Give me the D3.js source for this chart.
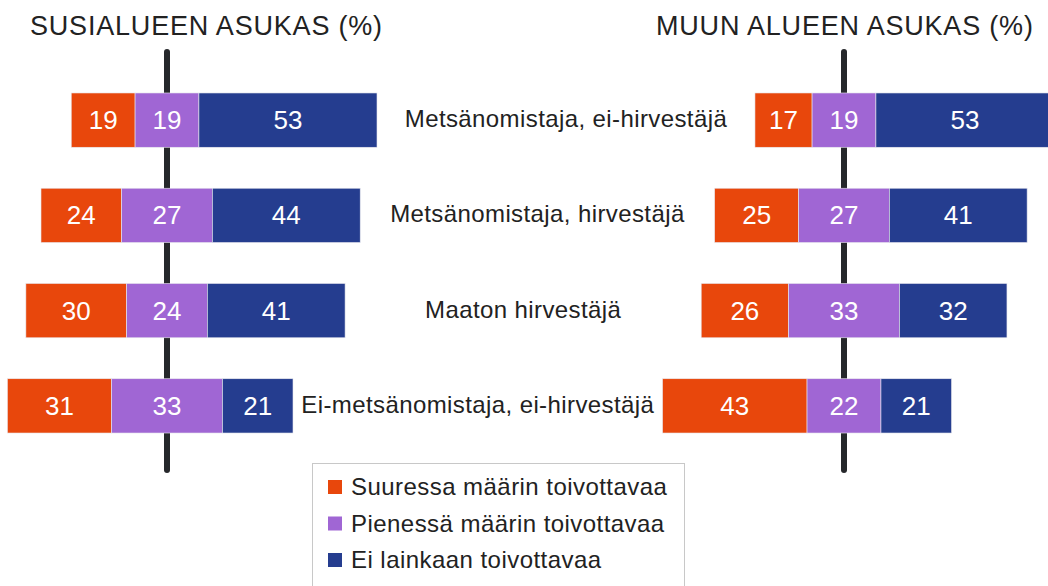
<!DOCTYPE html>
<html>
<head>
<meta charset="utf-8">
<script src="https://cdn.jsdelivr.net/npm/d3@7"></script>
<style>
  body { margin: 0; background: #fff; }
  svg { font-family: "Liberation Sans", Arial, sans-serif; }
</style>
</head>
<body>
<svg id="chart" width="1048" height="586"></svg>
<script>
const categories = ['Metsänomistaja, ei-hirvestäjä', 'Metsänomistaja, hirvestäjä', 'Maaton hirvestäjä', 'Ei-metsänomistaja, ei-hirvestäjä'];
const seriesNames = ['Suuressa määrin toivottavaa', 'Pienessä määrin toivottavaa', 'Ei lainkaan toivottavaa'];
const colors = ['#e8470c', '#a066d4', '#253d8f'];

// susialue
const leftSuuri = [19, 24, 30, 31];
const leftPieni = [19, 27, 24, 33];
const leftEi = [53, 44, 41, 21];
// muu alue
const rightSuuri = [17, 25, 26, 43];
const rightPieni = [19, 27, 33, 22];
const rightEi = [53, 41, 32, 21];

const panels = [
  {title: 'SUSIALUEEN ASUKAS (%)', center: 167, titleX: 30, vals: [leftSuuri, leftPieni, leftEi]},
  {title: 'MUUN ALUEEN ASUKAS (%)', center: 844, titleX: 656, vals: [rightSuuri, rightPieni, rightEi]}
];

const svg = d3.select('#chart');

const w = d3.scaleLinear().domain([0, 100]).range([0, 336]);
const y = d3.scaleBand().domain(categories).range([72.5, 453.5]).paddingInner(0.43).paddingOuter(0.215);

// rows of segments for a panel
function segments(p) {
  return categories.map((c, i) => {
    const v = p.vals.map(s => s[i]);
    let x0 = p.center - w(v[0]) - w(v[1]) / 2;
    return v.map((d, k) => {
      const seg = {cat: c, k: k, value: d, x: x0, width: w(d)};
      x0 += w(d);
      return seg;
    });
  });
}

const rowsL = segments(panels[0]);
const rowsR = segments(panels[1]);

panels.forEach((p, pi) => {
  const g = svg.append('g');
  const rows = pi === 0 ? rowsL : rowsR;

  g.append('text')
    .attr('x', p.titleX).attr('y', 35)
    .attr('font-size', 27).attr('letter-spacing', 0.8).attr('fill', '#222')
    .text(p.title);

  g.append('line')
    .attr('x1', p.center).attr('x2', p.center)
    .attr('y1', 52).attr('y2', 470)
    .attr('stroke', '#26282b').attr('stroke-width', 6)
    .attr('stroke-linecap', 'round');

  const segs = rows.flat();
  g.selectAll('rect.bar').data(segs).enter().append('rect')
    .attr('class', 'bar')
    .attr('x', d => d.x).attr('y', d => y(d.cat))
    .attr('width', d => d.width).attr('height', y.bandwidth())
    .attr('fill', d => colors[d.k])
    .attr('stroke', '#e8e8ee').attr('stroke-width', 0.6);

  g.selectAll('text.val').data(segs).enter().append('text')
    .attr('class', 'val')
    .attr('x', d => d.x + d.width / 2)
    .attr('y', d => y(d.cat) + y.bandwidth() / 2 + 9)
    .attr('text-anchor', 'middle')
    .attr('font-size', 26).attr('fill', '#fff')
    .text(d => d.value);
});

// category labels centred in the gap between the panels
svg.selectAll('text.cat').data(categories).enter().append('text')
  .attr('class', 'cat')
  .attr('x', (c, i) => {
    const lEnd = rowsL[i][2].x + rowsL[i][2].width;
    const rStart = rowsR[i][0].x;
    return (lEnd + rStart) / 2;
  })
  .attr('y', c => y(c) + y.bandwidth() / 2 + 7)
  .attr('text-anchor', 'middle')
  .attr('font-size', 24).attr('letter-spacing', 0.4).attr('fill', '#222')
  .text(c => c);

// legend
const legend = svg.append('g').attr('transform', 'translate(312,463)');
legend.append('rect')
  .attr('x', 0.5).attr('y', 0.5).attr('width', 372).attr('height', 140)
  .attr('fill', '#fff').attr('stroke', '#c8c8c8');
const item = legend.selectAll('g.item').data(seriesNames).enter().append('g')
  .attr('class', 'item')
  .attr('transform', (d, i) => `translate(16,${32 + i * 36.5})`);
item.append('rect')
  .attr('x', 0).attr('y', -15).attr('width', 14).attr('height', 14)
  .attr('fill', (d, i) => colors[i]);
item.append('text')
  .attr('x', 23).attr('y', 0)
  .attr('font-size', 24).attr('letter-spacing', 0.45).attr('fill', '#222')
  .text(d => d);
</script>
</body>
</html>
